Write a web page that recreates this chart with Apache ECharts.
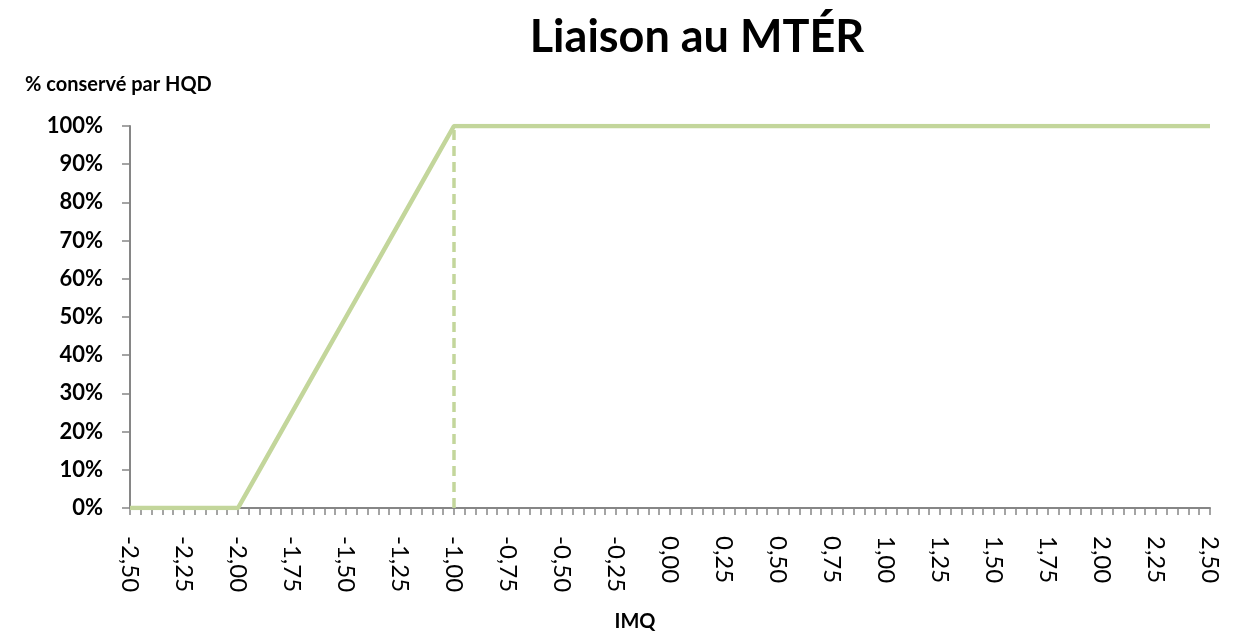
<!DOCTYPE html>
<html>
<head>
<meta charset="utf-8">
<script src="https://cdn.jsdelivr.net/npm/echarts@6/dist/echarts.min.js"></script>
<style>
  html, body { margin: 0; padding: 0; background: #fff; }
  #chart { width: 1239px; height: 632px; }
</style>
</head>
<body>
<div id="chart"></div>
<script>
// données
var imq = [-2.5, -2.0, -1.9, -1.8, -1.7, -1.6, -1.5, -1.4, -1.3, -1.2, -1.1, -1.0, 2.5];
var conserve = [0, 0, 0.1, 0.2, 0.3, 0.4, 0.5, 0.6, 0.7, 0.8, 0.9, 1.0, 1.0];
var seuilX = [-1.0, -1.0];
var seuilY = [0, 1.0];

var vert = '#c3d69b';
var gris = '#868686';
var police = 'Lato, "Open Sans", sans-serif';

var myChart = echarts.init(document.getElementById('chart'));

function fmtNum(v) {
	return v.toFixed(2).replace('.', ',');
}

var option = {
	animation: false,
	title: [
		{
			text: 'Liaison au MTÉR',
			left: 692,
			top: 10,
			textAlign: 'center',
			textStyle: { fontFamily: police, fontWeight: 'bold', fontSize: 45, color: '#000' }
		},
		{
			text: '% conservé par HQD',
			left: 20,
			top: 70,
			textStyle: { fontFamily: police, fontWeight: 'bold', fontSize: 20, color: '#000' }
		}
	],
	grid: { left: 130, right: 29, top: 126, bottom: 124, containLabel: false, outerBoundsMode: 'none' },
	xAxis: {
		type: 'value',
		min: -2.5,
		max: 2.5,
		interval: 0.25,
		name: 'IMQ',
		nameLocation: 'middle',
		nameGap: 104,
		nameTextStyle: { fontFamily: police, fontWeight: 'bold', fontSize: 20, color: '#000', padding: [0, 70, 0, 0] },
		axisLine: { onZero: false, lineStyle: { color: gris, width: 2 } },
		axisTick: { show: true, length: 7, lineStyle: { color: gris, width: 1.5 } },
		minorTick: { show: true, splitNumber: 5, length: 7, lineStyle: { color: gris, width: 1.5 } },
		splitLine: { show: false },
		axisLabel: {
			rotate: -90,
			margin: 28,
			fontFamily: police,
			fontSize: 24,
			color: '#000',
			formatter: fmtNum
		}
	},
	yAxis: {
		type: 'value',
		min: 0,
		max: 1,
		interval: 0.1,
		axisLine: { show: true, onZero: false, lineStyle: { color: gris, width: 2 } },
		axisTick: { show: true, length: 8, lineStyle: { color: gris, width: 1.5 } },
		splitLine: { show: false },
		axisLabel: {
			margin: 27,
			fontFamily: police,
			fontWeight: 'bold',
			fontSize: 22,
			color: '#000',
			formatter: function (v) { return Math.round(v * 100) + '%'; }
		}
	},
	series: [
		{
			name: 'conservé',
			type: 'line',
			showSymbol: false,
			data: imq.map(function (x, i) { return [x, conserve[i]]; }),
			lineStyle: { color: vert, width: 4.5 },
			z: 3
		},
		{
			name: 'seuil',
			type: 'line',
			showSymbol: false,
			data: seuilX.map(function (x, i) { return [x, seuilY[i]]; }),
			lineStyle: { color: vert, width: 3.5, type: [10, 6] },
			z: 2
		}
	]
};

myChart.setOption(option);
window.addEventListener('resize', function () {
	myChart.resize();
});
</script>
</body>
</html>
